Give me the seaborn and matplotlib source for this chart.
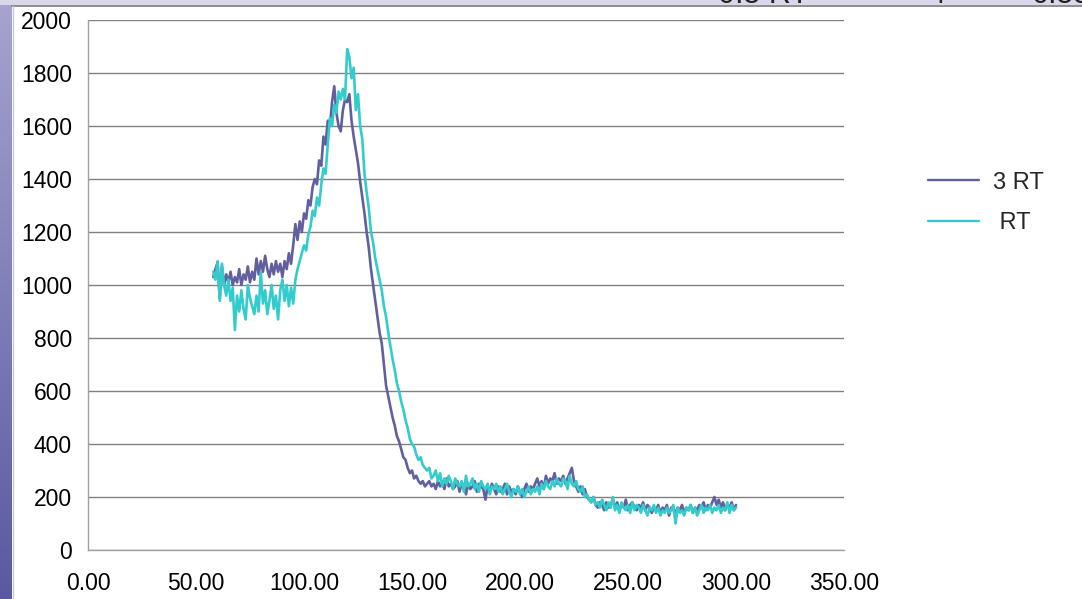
import numpy as np
import pandas as pd
import matplotlib
matplotlib.use("Agg")
import matplotlib.pyplot as plt
from matplotlib.patches import Rectangle
from matplotlib.lines import Line2D
import seaborn as sns

# Sample positions (one reading per unit from 58 to 300)
x_vals = np.arange(58, 301)

series_names = ["3 RT", " RT"]

rt3 = [
    1030, 1060, 1085, 950, 1070, 1000, 1040, 1010, 1050, 1000,
    1030, 1010, 1060, 1000, 1040, 1020, 1070, 1010, 1050, 1020,
    1100, 1040, 1090, 1050, 1110, 1060, 1030, 1080, 1040, 1090,
    1050, 1080, 1030, 1090, 1060, 1120, 1080, 1150, 1230, 1170,
    1240, 1200, 1270, 1250, 1320, 1300, 1370, 1400, 1380, 1470,
    1450, 1560, 1530, 1620, 1600, 1690, 1750, 1650, 1600, 1580,
    1660, 1700, 1690, 1720, 1620, 1560, 1510, 1460, 1390, 1330,
    1270, 1200, 1140, 1060, 1000, 940, 880, 820, 780, 700,
    620, 580, 540, 500, 470, 430, 410, 380, 350, 340,
    310, 290, 300, 270, 280, 260, 250, 260, 240, 250,
    260, 240, 250, 230, 260, 240, 250, 230, 270, 240,
    250, 230, 240, 260, 220, 250, 240, 210, 250, 230,
    240, 260, 220, 250, 240, 230, 190, 240, 220, 250,
    230, 210, 240, 220, 230, 250, 210, 240, 220, 230,
    210, 240, 220, 200, 230, 250, 220, 240, 230, 250,
    270, 240, 260, 230, 280, 250, 270, 260, 290, 250,
    270, 260, 280, 250, 270, 290, 310, 260, 240, 220,
    240, 210, 230, 200, 190, 180, 200, 170, 160, 180,
    170, 150, 180, 160, 170, 190, 160, 180, 150, 170,
    160, 190, 150, 170, 180, 160, 150, 170, 160, 180,
    150, 170, 160, 140, 160, 150, 170, 140, 160, 150,
    170, 130, 160, 150, 140, 160, 150, 170, 140, 160,
    150, 170, 140, 160, 150, 170, 160, 180, 150, 170,
    160, 180, 200, 170, 190, 160, 180, 150, 170, 160,
    180, 150, 170,
]

rt = [
    1050, 1020, 1090, 940, 1080, 1000, 960, 1020, 940, 990,
    830, 960, 900, 980, 910, 870, 1000, 950, 920, 890,
    960, 900, 1050, 930, 980, 890, 940, 1000, 910, 960,
    870, 980, 1020, 940, 1000, 920, 990, 930, 1020, 1060,
    1090, 1120, 1150, 1130, 1190, 1220, 1280, 1260, 1330, 1300,
    1380, 1440, 1420, 1530, 1630, 1600, 1680, 1650, 1730, 1700,
    1740, 1700, 1890, 1860, 1780, 1820, 1660, 1720, 1600, 1550,
    1420, 1350, 1290, 1200, 1160, 1100, 1060, 1020, 980, 920,
    880, 820, 770, 720, 680, 630, 600, 560, 530, 490,
    460, 420, 400, 390, 360, 340, 350, 320, 310, 300,
    310, 270, 280, 300, 260, 290, 240, 270, 250, 280,
    260, 230, 270, 250, 240, 260, 220, 280, 240, 250,
    270, 230, 250, 220, 260, 240, 230, 250, 210, 240,
    230, 250, 220, 240, 210, 230, 250, 220, 200, 230,
    220, 240, 210, 230, 200, 220, 240, 210, 230, 220,
    240, 210, 250, 230, 260, 240, 230, 260, 240, 270,
    250, 240, 270, 260, 230, 280, 250, 240, 260, 230,
    220, 240, 200, 210, 190, 180, 200, 170, 180, 160,
    190, 170, 150, 180, 160, 200, 150, 170, 140, 180,
    160, 150, 170, 140, 180, 150, 170, 160, 140, 170,
    150, 130, 160, 150, 170, 140, 160, 130, 150, 140,
    160, 140, 150, 170, 100, 160, 140, 150, 130, 160,
    150, 170, 140, 160, 130, 150, 170, 140, 160, 150,
    170, 140, 160, 150, 170, 140, 160, 150, 180, 140,
    170, 150, 160,
]

x_ticks = [0, 50, 100, 150, 200, 250, 300, 350]
x_tick_labels = ["0.00", "50.00", "100.00", "150.00", "200.00", "250.00", "300.00", "350.00"]
y_ticks = [0, 200, 400, 600, 800, 1000, 1200, 1400, 1600, 1800, 2000]

df = pd.DataFrame({
    "x": np.concatenate([x_vals, x_vals]),
    "y": np.concatenate([rt3, rt]),
    "series": [series_names[0]] * len(rt3) + [series_names[1]] * len(rt),
})

sns.set_theme(style="white")
plt.rcParams["font.family"] = ["Liberation Sans", "DejaVu Sans"]

W, H = 1082, 599
fig = plt.figure(figsize=(W / 100, H / 100), dpi=100)
fig.patch.set_facecolor("white")

# slide background: gradient strip on the left and a band along the top
grad = np.linspace(0, 1, 256).reshape(-1, 1)
strip = fig.add_axes([0, 0, 12 / W, 1])
strip.imshow(grad, aspect="auto", cmap=matplotlib.colors.LinearSegmentedColormap.from_list(
    "slide", ["#a7a4cf", "#5a58a0"]), extent=[0, 1, 0, 1])
strip.axis("off")
fig.patches.append(Rectangle((0, 1 - 5 / H), 1, 5 / H, transform=fig.transFigure,
                             facecolor="#d9d8ea", edgecolor="none", zorder=0))
fig.lines.append(Line2D([12 / W, 1], [1 - 5.5 / H, 1 - 5.5 / H],
                        transform=fig.transFigure, color="#7a7a7a", lw=1.2))
fig.lines.append(Line2D([12.5 / W, 12.5 / W], [0, 1 - 5.5 / H],
                        transform=fig.transFigure, color="#c8c8d8", lw=1))
for tx, s in [(718 / W, "0.5 RT"), (928 / W, "4"), (1032 / W, "0.55")]:
    fig.text(tx, 1 - 3 / H, s, fontsize=22, color="#222222", va="baseline", ha="left")

ax = fig.add_axes([88 / W, 49 / H, 756 / W, 530 / H])
sns.lineplot(data=df, x="x", y="y", hue="series", palette=["#625f9f", "#33cccc"],
             linewidth=1.9, ax=ax, legend=True)

ax.set_xlim(0, 350)
ax.set_ylim(0, 2000)
ax.set_xticks(x_ticks)
ax.set_xticklabels(x_tick_labels)
ax.set_yticks(y_ticks)
ax.set_xlabel("")
ax.set_ylabel("")
ax.yaxis.grid(True, color="#808080", linewidth=1)
ax.set_axisbelow(True)
for side in ["top", "right"]:
    ax.spines[side].set_visible(False)
for side in ["left", "bottom"]:
    ax.spines[side].set_color("#a0a0a0")
    ax.spines[side].set_linewidth(1)
ax.tick_params(axis="both", which="both", direction="out", colors="#a0a0a0",
               labelcolor="black", labelsize=16.5, length=5.5, width=1)
ax.tick_params(axis="x", pad=10)
ax.tick_params(axis="y", pad=6)

leg = ax.legend(loc="upper left", bbox_to_anchor=(1.111, 0.714), frameon=False,
                fontsize=17, handlelength=2.15, handletextpad=0.6, labelspacing=0.8,
                borderpad=0, borderaxespad=0)
for line in leg.get_lines():
    line.set_linewidth(1.7)

fig.savefig("out.png", dpi=100)
